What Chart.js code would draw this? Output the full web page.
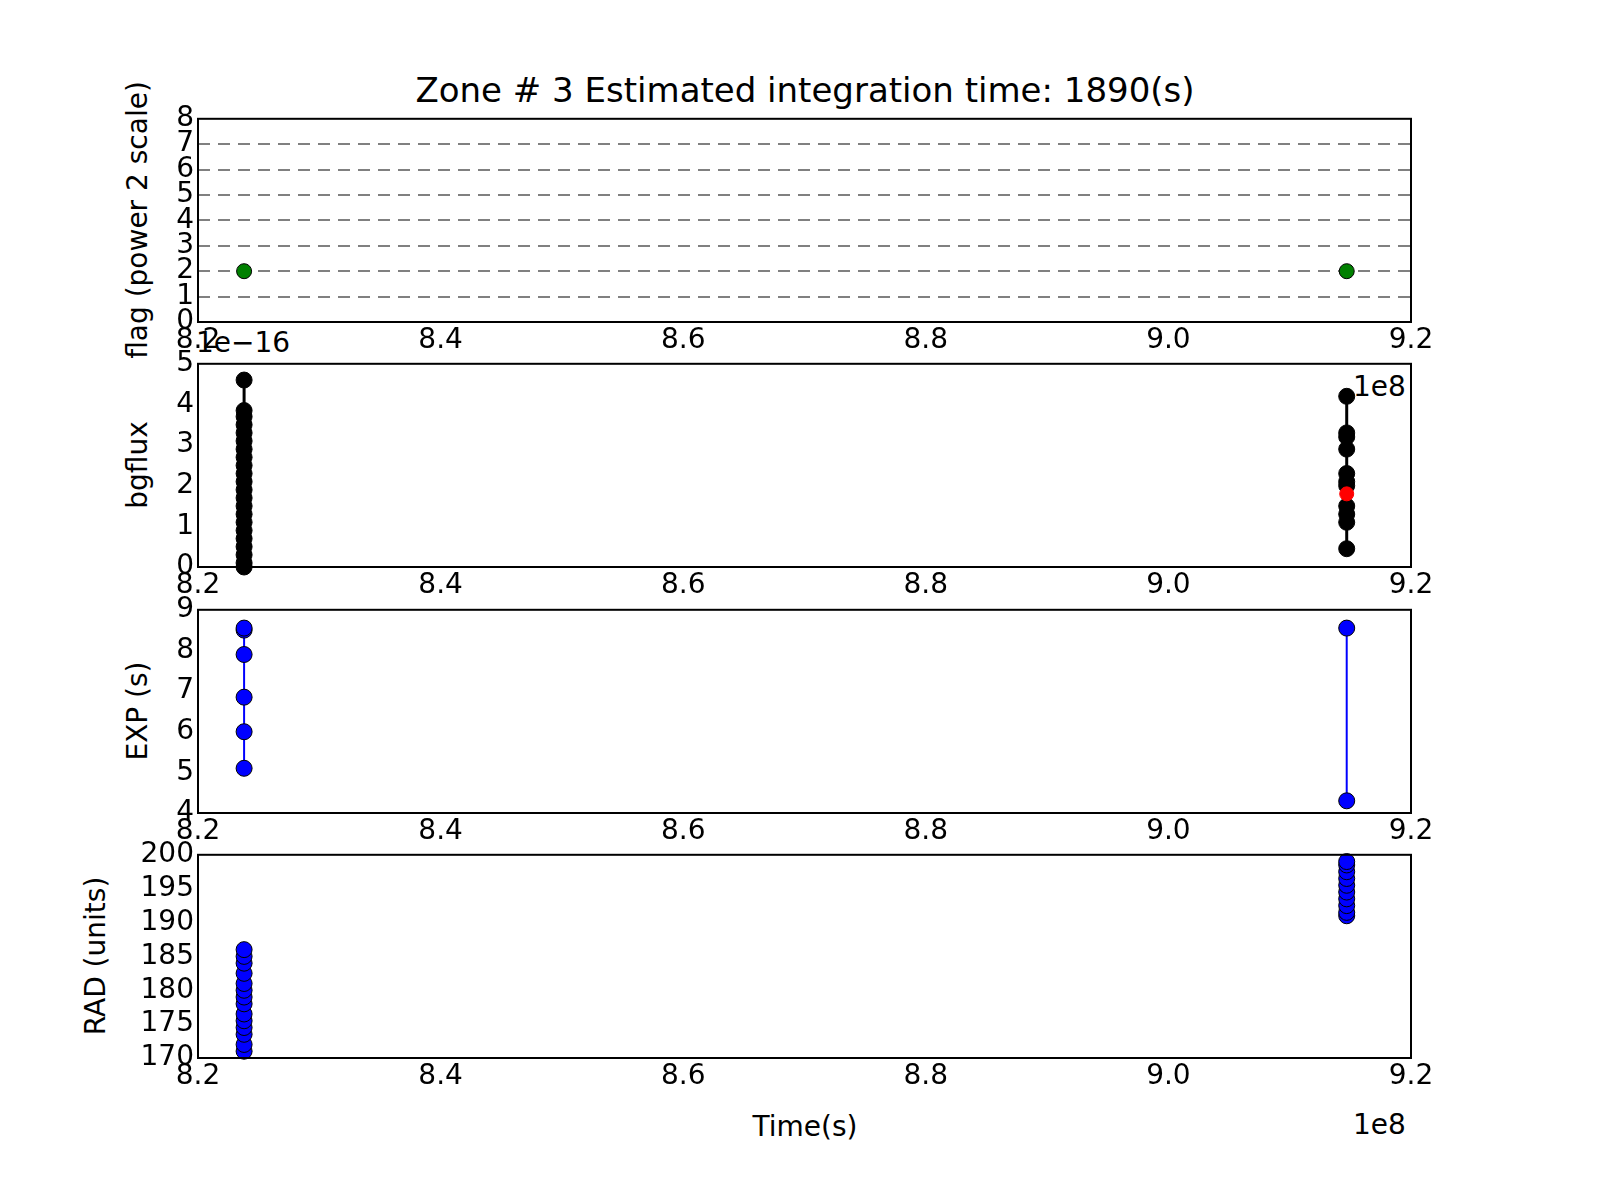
<!DOCTYPE html>
<html>
<head>
<meta charset="utf-8">
<script src="https://cdn.jsdelivr.net/npm/chart.js@4"></script>
<style>
  body { margin: 0; background: #fff; font-family: "DejaVu Sans"; }
  #wrap { position: relative; width: 1600px; height: 1200px; }
  canvas { position: absolute; left: 0; }
  .t { position: absolute; font-size: 28px; color: #000; white-space: nowrap; }
  .rot { transform: translate(-50%, -50%) rotate(-90deg); }
</style>
</head>
<body>
<div id="wrap">
  <div class="t" style="left:805px;top:70px;transform:translateX(-50%);font-size:34px">Zone # 3 Estimated integration time: 1890(s)</div>
  <div class="t rot" style="left:137px;top:220px">flag (power 2 scale)</div>
  <div class="t rot" style="left:137px;top:465px">bgflux</div>
  <div class="t rot" style="left:137px;top:711px">EXP (s)</div>
  <div class="t rot" style="left:95px;top:956px">RAD (units)</div>
  <div class="t" style="left:196px;top:326px">1e−16</div>
  <div class="t" style="left:1353px;top:370px">1e8</div>
  <div class="t" style="left:1353px;top:1108px">1e8</div>
  <div class="t" style="left:805px;top:1110px;transform:translateX(-50%)">Time(s)</div>
</div>
<script>
// x positions in units of 1e8 s
const tLeft = 8.238;
const tRight = 9.147;

const flagX = [tLeft, tRight];
const flagY = [2, 2];

const bgLeft = [0.0, 0.1, 0.3, 0.5, 0.7, 0.9, 1.1, 1.3, 1.5, 1.7, 1.9, 2.1, 2.3, 2.5, 2.7, 2.9, 3.1, 3.3, 3.5, 3.7, 3.85, 4.6];
const bgRight = [0.45, 1.1, 1.3, 1.5, 2.0, 2.1, 2.3, 2.9, 3.2, 3.3, 4.2];
const bgRed = [1.8];

const expLeft = [5.1, 6.0, 6.85, 7.9, 8.5, 8.55];
const expRight = [4.3, 8.55];

const radLeft = [171, 172, 173.5, 174.5, 175.5, 176.5, 178, 179, 180, 181, 182.5, 184, 185, 186];
const radRight = [191, 191.5, 192.5, 193.5, 194.5, 195.5, 196.5, 197.5, 198.5, 199];

const panels = [
  { top: 118, min: 0, max: 8, step: 1 },
  { top: 363, min: 0, max: 5, step: 1 },
  { top: 609, min: 4, max: 9, step: 1 },
  { top: 854, min: 170, max: 200, step: 5 }
];

function pts(x, ys) { return ys.map(v => ({ x: x, y: v })); }

const frame = {
  id: 'frame',
  afterDraw(chart) {
    const a = chart.chartArea, c = chart.ctx;
    c.save();
    c.strokeStyle = '#000';
    c.lineWidth = 2;
    c.strokeRect(a.left, a.top, a.right - a.left, a.bottom - a.top);
    c.restore();
  }
};

function makePanel(p, datasets, dashedGrid) {
  const cv = document.createElement('canvas');
  cv.style.top = (p.top - 20) + 'px';
  cv.style.width = '1600px';
  cv.style.height = (204 + 20 + 45) + 'px';
  document.getElementById('wrap').appendChild(cv);
  new Chart(cv.getContext('2d'), {
    type: 'scatter',
    data: { datasets: datasets },
    options: {
      responsive: false,
      animation: false,
      devicePixelRatio: 1,
      plugins: { legend: { display: false }, tooltip: { enabled: false } },
      layout: { padding: { top: 20, right: 189, left: 0, bottom: 0 } },
      scales: {
        x: {
          min: 8.2, max: 9.2,
          afterFit: s => { s.height = 45; },
          ticks: { stepSize: 0.2, color: '#000', font: { family: 'DejaVu Sans', size: 28 },
                   callback: v => v.toFixed(1), padding: 2, autoSkip: false, maxRotation: 0 },
          grid: { drawOnChartArea: false, tickLength: 0 },
          border: { display: false }
        },
        y: {
          min: p.min, max: p.max,
          afterFit: s => { s.width = 198; },
          ticks: { stepSize: p.step, color: '#000', font: { family: 'DejaVu Sans', size: 28 },
                   padding: 4, autoSkip: false },
          grid: dashedGrid ? {
            color: ctx => (ctx.tick.value > 0 && ctx.tick.value < 8) ? '#808080' : 'rgba(0,0,0,0)',
            lineWidth: 2, tickLength: 0
          } : { drawOnChartArea: false, tickLength: 0 },
          border: { display: false, dash: dashedGrid ? [12, 8] : [] }
        }
      }
    },
    plugins: [frame]
  });
}

const dot = (color, r) => ({ pointRadius: r, pointBackgroundColor: color, pointBorderColor: '#000', pointBorderWidth: 1, clip: false });

makePanel(panels[0], [
  Object.assign({ data: flagX.map((x, i) => ({ x: x, y: flagY[i] })), showLine: false }, dot('#008000', 7.5))
], true);

makePanel(panels[1], [
  Object.assign({ data: pts(tLeft, bgLeft), showLine: true, borderColor: '#000', borderWidth: 3, order: 2 }, dot('#000', 8)),
  Object.assign({ data: pts(tRight, bgRight), showLine: true, borderColor: '#000', borderWidth: 3, order: 2 }, dot('#000', 8)),
  Object.assign({ data: pts(tRight, bgRed), showLine: false, order: 0 }, dot('#ff0000', 7), { pointBorderColor: '#ff0000' })
], false);

makePanel(panels[2], [
  Object.assign({ data: pts(tLeft, expLeft), showLine: true, borderColor: '#0000ff', borderWidth: 2 }, dot('#0000ff', 8)),
  Object.assign({ data: pts(tRight, expRight), showLine: true, borderColor: '#0000ff', borderWidth: 2 }, dot('#0000ff', 8))
], false);

makePanel(panels[3], [
  Object.assign({ data: pts(tLeft, radLeft), showLine: false }, dot('#0000ff', 8)),
  Object.assign({ data: pts(tRight, radRight), showLine: false }, dot('#0000ff', 8))
], false);
</script>
</body>
</html>
